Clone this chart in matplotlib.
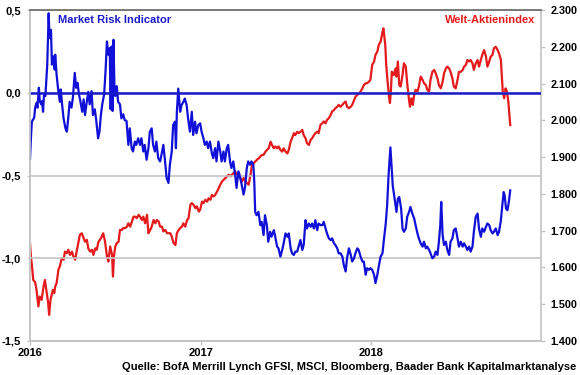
import numpy as np
import pandas as pd
import matplotlib
matplotlib.use("Agg")
import matplotlib.pyplot as plt
from matplotlib.ticker import FixedLocator, FuncFormatter

plt.rcParams["font.family"] = ["Liberation Sans", "DejaVu Sans"]
plt.rcParams["font.weight"] = "bold"

start = pd.Timestamp("2016-01-01")

# Market Risk Indicator (left axis), x = days since 2016-01-01
mri_days = [0, 2, 4, 9, 11, 14, 16, 19, 21, 24, 26, 28, 30, 33, 37, 40, 42, 45, 47, 50,
            53, 54, 57, 60, 64, 66, 69, 72, 76, 79, 82, 85, 89, 92, 96, 99, 102, 105, 108, 112,
            115, 118, 121, 125, 128, 132, 135, 139, 142, 146, 149, 152, 155, 159, 162, 165, 168, 171, 173, 175,
            177, 179, 181, 183, 186, 189, 193, 196, 200, 203, 207, 211, 214, 218, 221, 225, 228, 232, 236, 239,
            243, 246, 250, 254, 257, 261, 264, 268, 271, 275, 279, 282, 286, 289, 293, 297, 300, 304, 307, 311,
            313, 315, 318, 322, 325, 329, 332, 336, 339, 343, 347, 350, 354, 357, 361, 365, 368, 372, 375, 379,
            382, 386, 390, 393, 397, 400, 404, 408, 411, 415, 418, 422, 425, 429, 432, 436, 440, 443, 447, 451,
            454, 458, 461, 465, 468, 472, 475, 479, 481, 483, 486, 490, 494, 497, 501, 504, 508, 511, 515, 518,
            523, 526, 530, 533, 537, 541, 544, 548, 552, 555, 559, 562, 566, 569, 573, 576, 580, 584, 587, 591,
            594, 598, 602, 605, 609, 612, 616, 619, 623, 627, 630, 634, 637, 641, 645, 648, 652, 655, 659, 662,
            666, 670, 673, 677, 680, 684, 688, 691, 695, 698, 702, 705, 709, 713, 716, 720, 723, 727, 730, 734,
            738, 741, 745, 748, 752, 756, 759, 763, 766, 769, 773, 775, 778, 782, 786, 789, 792, 796, 799, 802,
            806, 809, 813, 816, 820, 824, 827, 831, 834, 838, 842, 845, 849, 852, 856, 859, 863, 867, 870, 874,
            877, 880, 882, 885, 888, 892, 895, 899, 902, 906, 909, 913, 917, 920, 924, 928, 931, 935, 938, 942,
            945, 949, 952, 956, 960, 963, 967, 970, 974, 978, 981, 985, 988, 992, 995, 999, 1003, 1006, 1010, 1013,
            1016, 1018, 1021, 1024, 1027, 1030]
mri_vals = [-0.40, -0.27, -0.175, -0.15, -0.09, -0.06, -0.09, 0.03, -0.05, -0.07, -0.05, -0.115, -0.01, -0.02, 0.17, 0.48, 0.33, 0.38, 0.17, 0.22,
            0.14, 0.23, 0.11, 0.03, -0.055, 0.02, -0.075, -0.155, -0.215, -0.235, -0.155, -0.055, -0.09, -0.03, 0.12, 0.03, 0.06, -0.01, -0.05, -0.115,
            -0.04, -0.135, -0.07, 0.005, -0.07, 0.01, -0.135, -0.10, -0.165, -0.275, -0.235, -0.135, -0.07, -0.01, 0.13, 0.31, 0.23, 0.27, -0.10, 0.28,
            -0.11, 0.32, 0.05, -0.02, 0.04, -0.055, -0.07, -0.155, -0.13, -0.165, -0.17, -0.315, -0.215, -0.335, -0.355, -0.295, -0.315, -0.275, -0.315, -0.275,
            -0.355, -0.315, -0.405, -0.335, -0.235, -0.215, -0.315, -0.355, -0.295, -0.395, -0.415, -0.375, -0.315, -0.395, -0.515, -0.545, -0.435, -0.355, -0.195, -0.175,
            -0.335, -0.115, 0.025, -0.115, -0.075, -0.055, -0.035, -0.075, -0.155, -0.235, -0.115, -0.255, -0.175, -0.245, -0.195, -0.185, -0.235, -0.275, -0.315, -0.295,
            -0.335, -0.295, -0.365, -0.395, -0.335, -0.415, -0.295, -0.355, -0.415, -0.355, -0.415, -0.335, -0.315, -0.415, -0.455, -0.415, -0.495, -0.575, -0.475, -0.515,
            -0.555, -0.615, -0.575, -0.455, -0.415, -0.435, -0.415, -0.435, -0.535, -0.72, -0.74, -0.72, -0.80, -0.78, -0.86, -0.74, -0.80, -0.90, -0.84, -0.87,
            -0.83, -0.87, -0.93, -0.94, -0.99, -0.95, -0.91, -0.85, -0.87, -0.85, -0.94, -0.97, -0.98, -0.96, -0.96, -0.93, -0.89, -0.95, -0.92, -0.77,
            -0.82, -0.79, -0.81, -0.79, -0.82, -0.77, -0.83, -0.79, -0.80, -0.80, -0.78, -0.82, -0.85, -0.88, -0.89, -0.88, -0.91, -0.92, -0.94, -0.97,
            -0.97, -0.99, -1.04, -1.08, -1.00, -0.94, -0.98, -1.02, -1.00, -0.97, -0.94, -0.95, -0.99, -1.02, -1.02, -1.10, -1.06, -1.07, -1.06, -1.07,
            -1.10, -1.15, -1.10, -1.05, -0.99, -0.97, -0.89, -0.79, -0.68, -0.50, -0.33, -0.42, -0.56, -0.64, -0.72, -0.64, -0.63, -0.70, -0.82, -0.84,
            -0.82, -0.75, -0.72, -0.69, -0.73, -0.76, -0.80, -0.85, -0.88, -0.91, -0.93, -0.90, -0.94, -0.93, -0.95, -0.97, -1.00, -0.99, -0.96, -0.98,
            -0.90, -0.80, -0.66, -0.86, -0.92, -0.90, -0.95, -0.98, -0.90, -0.88, -0.83, -0.82, -0.88, -0.93, -0.90, -0.93, -0.91, -0.93, -0.95, -0.93,
            -0.96, -0.93, -0.84, -0.75, -0.73, -0.82, -0.87, -0.82, -0.84, -0.81, -0.79, -0.80, -0.83, -0.85, -0.84, -0.82, -0.86, -0.84, -0.77, -0.68,
            -0.60, -0.62, -0.70, -0.71, -0.66, -0.59]

# Welt-Aktienindex (right axis)
idx_days = [0, 2, 5, 7, 11, 14, 18, 21, 25, 29, 32, 36, 39, 41, 44, 49, 52, 54, 57, 61,
            64, 68, 72, 75, 79, 82, 86, 90, 93, 97, 100, 104, 107, 111, 115, 118, 122, 125, 129, 133,
            136, 140, 143, 147, 150, 154, 157, 161, 165, 168, 172, 176, 178, 180, 183, 186, 190, 193, 197, 200,
            204, 208, 211, 215, 222, 226, 229, 233, 236, 240, 243, 247, 251, 254, 258, 261, 265, 269, 272, 276,
            279, 283, 286, 290, 294, 301, 304, 308, 312, 315, 319, 322, 326, 329, 333, 337, 340, 344, 347, 351,
            355, 358, 362, 365, 369, 372, 376, 380, 383, 387, 390, 394, 397, 401, 405, 408, 412, 415, 419, 423,
            426, 430, 433, 437, 440, 444, 448, 451, 455, 458, 462, 466, 469, 473, 476, 480, 483, 487, 491, 494,
            498, 501, 505, 509, 512, 516, 519, 523, 526, 530, 533, 537, 541, 544, 548, 552, 555, 559, 562, 566,
            569, 573, 576, 580, 584, 587, 591, 594, 598, 602, 605, 609, 612, 616, 619, 623, 627, 630, 634, 637,
            641, 645, 648, 652, 655, 659, 662, 666, 670, 673, 677, 680, 684, 688, 691, 695, 698, 702, 705, 709,
            713, 716, 720, 723, 727, 730, 734, 738, 741, 745, 748, 752, 756, 758, 762, 764, 767, 770, 772, 774,
            776, 780, 784, 786, 789, 792, 795, 799, 802, 806, 809, 813, 815, 818, 821, 824, 827, 831, 834, 838,
            842, 845, 849, 852, 856, 859, 863, 867, 870, 874, 877, 881, 885, 888, 892, 895, 899, 902, 906, 909,
            913, 917, 920, 924, 928, 931, 935, 938, 942, 945, 949, 952, 956, 960, 963, 967, 970, 974, 978, 981,
            985, 988, 992, 995, 999, 1003, 1006, 1010, 1011, 1014, 1017, 1020, 1023, 1026, 1028, 1030]
idx_vals = [1666, 1630, 1594, 1566, 1560, 1539, 1494, 1521, 1512, 1548, 1566, 1530, 1503, 1471, 1512, 1539, 1530, 1548, 1557, 1594,
            1603, 1625, 1621, 1643, 1639, 1648, 1634, 1643, 1630, 1621, 1643, 1670, 1689, 1693, 1680, 1670, 1675, 1652, 1643, 1648,
            1634, 1652, 1648, 1670, 1675, 1684, 1693, 1670, 1630, 1616, 1657, 1634, 1575, 1630, 1657, 1666, 1670, 1702, 1702, 1707,
            1707, 1711, 1720, 1711, 1738, 1738, 1734, 1743, 1738, 1729, 1738, 1720, 1743, 1693, 1702, 1711, 1729, 1720, 1729, 1725,
            1711, 1711, 1698, 1702, 1693, 1693, 1684, 1666, 1661, 1693, 1702, 1707, 1711, 1720, 1711, 1729, 1734, 1770, 1775, 1770,
            1761, 1766, 1752, 1757, 1779, 1775, 1784, 1779, 1788, 1784, 1797, 1793, 1797, 1806, 1816, 1825, 1834, 1838, 1843, 1848,
            1852, 1848, 1852, 1857, 1861, 1852, 1857, 1843, 1834, 1843, 1834, 1829, 1825, 1852, 1879, 1884, 1888, 1893, 1897, 1902,
            1906, 1906, 1915, 1920, 1924, 1942, 1933, 1924, 1929, 1924, 1929, 1920, 1915, 1924, 1915, 1910, 1920, 1942, 1951, 1965,
            1960, 1969, 1965, 1969, 1974, 1960, 1951, 1938, 1933, 1947, 1951, 1960, 1965, 1969, 1965, 1988, 1992, 1997, 1992, 2001,
            2006, 2015, 2024, 2028, 2033, 2037, 2042, 2037, 2042, 2047, 2051, 2037, 2033, 2037, 2042, 2055, 2064, 2069, 2073, 2078,
            2087, 2096, 2101, 2101, 2105, 2110, 2151, 2160, 2178, 2187, 2205, 2214, 2240, 2250, 2205, 2151, 2105, 2064, 2047, 2078,
            2132, 2123, 2141, 2119, 2160, 2096, 2092, 2123, 2155, 2146, 2101, 2055, 2037, 2060, 2042, 2069, 2083, 2078, 2092, 2119,
            2110, 2101, 2096, 2083, 2078, 2110, 2132, 2137, 2128, 2114, 2096, 2087, 2105, 2128, 2141, 2146, 2141, 2132, 2114, 2092,
            2087, 2110, 2132, 2132, 2137, 2146, 2151, 2164, 2160, 2164, 2155, 2137, 2155, 2164, 2146, 2164, 2178, 2191, 2173, 2146,
            2160, 2173, 2178, 2196, 2200, 2191, 2182, 2164, 2141, 2078, 2060, 2087, 2078, 2050, 2020, 1987]

year_ticks = ["2016-01-01", "2017-01-01", "2018-01-01"]
year_labels = ["2016", "2017", "2018"]
left_ticks = [-1.5, -1.0, -0.5, 0.0, 0.5]
right_ticks = [1400, 1500, 1600, 1700, 1800, 1900, 2000, 2100, 2200, 2300]

blue = "#1010d8"
red = "#e41a1c"
light = "#c4c4c4"

mri_dates = start + pd.to_timedelta(mri_days, unit="D")
idx_dates = start + pd.to_timedelta(idx_days, unit="D")

fig = plt.figure(figsize=(5.8, 3.75), dpi=100)
ax = fig.add_axes([30 / 580, 34 / 375, 511 / 580, 331 / 375])
ax2 = ax.twinx()

ax2.plot(idx_dates, idx_vals, color=red, lw=1.6)
ax.plot(mri_dates, mri_vals, color=blue, lw=1.6)
ax.axhline(0, color="#1a1ac8", lw=1.8)

ax.set_zorder(ax2.get_zorder() + 1)
ax.patch.set_visible(False)

ax.set_xlim(start, pd.Timestamp("2019-01-01"))
ax.set_ylim(-1.5, 0.5)
ax2.set_ylim(1400, 2300)

ax.yaxis.set_major_locator(FixedLocator(left_ticks))
ax.yaxis.set_major_formatter(FuncFormatter(lambda v, p: f"{v:.1f}".replace(".", ",")))
ax2.yaxis.set_major_locator(FixedLocator(right_ticks))
ax2.yaxis.set_major_formatter(FuncFormatter(lambda v, p: f"{int(v):,}".replace(",", ".")))
ax.set_xticks(pd.to_datetime(year_ticks))
ax.set_xticklabels(year_labels)

ax.grid(axis="y", color=light, lw=1.2)
ax.set_axisbelow(True)

for a in (ax, ax2):
    for s in a.spines.values():
        s.set_color(light)
        s.set_linewidth(1.2)
ax.spines["top"].set_color("#666666")
ax2.spines["top"].set_visible(False)
ax.spines["right"].set_visible(False)

ax.tick_params(axis="y", length=2.5, width=1, color=light, pad=4, labelsize=8)
ax.tick_params(axis="x", length=3, width=1, color=light, pad=2, labelsize=8)
ax2.tick_params(axis="y", length=3, width=1, color=light, pad=4, labelsize=7.8)
for lab in ax.get_xticklabels() + ax.get_yticklabels() + ax2.get_yticklabels():
    lab.set_fontweight("bold")

ax.text(58 / 580, 1 - 20 / 375, "Market Risk Indicator", transform=fig.transFigure,
        color="#1a1acc", fontsize=8, fontweight="bold", ha="left", va="center")
ax.text(535 / 580, 1 - 20 / 375, "Welt-Aktienindex", transform=fig.transFigure,
        color=red, fontsize=8, fontweight="bold", ha="right", va="center")
fig.text(576 / 580, 1 - 367 / 375, "Quelle: BofA Merrill Lynch GFSI, MSCI, Bloomberg, Baader Bank Kapitalmarktanalyse",
         color="black", fontsize=8, fontweight="bold", ha="right", va="center")

fig.savefig("out.png", dpi=100)
